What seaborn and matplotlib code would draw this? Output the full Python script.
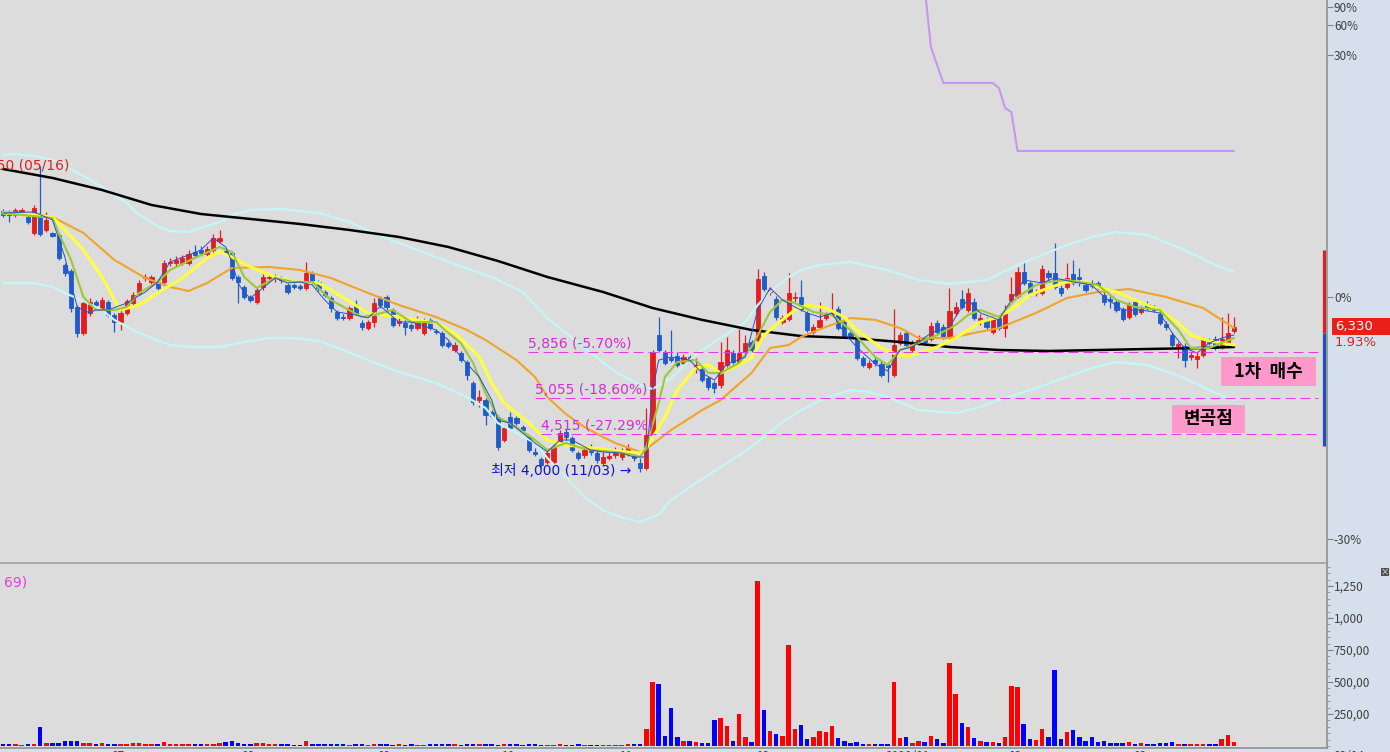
import numpy as np
import pandas as pd
import matplotlib
matplotlib.use('Agg')
import matplotlib.pyplot as plt
import seaborn as sns
from matplotlib.patches import Rectangle
from matplotlib.ticker import FixedLocator, NullLocator

# ----- # 일봉 데이터 (시가, 고가, 저가, 종가, 거래량) # ----- #
opens = [9160, 9130, 9040, 9100, 8985, 8540, 9040, 8620, 8540, 8486,
         7716, 7571, 6754, 6220, 6627, 6862, 6733, 6862, 6585, 6440,
         6627, 6840, 7061, 7405, 7311, 7311, 7311, 7765, 7765, 7765,
         7765, 8041, 8092, 7990, 8092, 8326, 8066, 8015, 7428, 7196,
         6972, 6862, 7196, 7405, 7405, 7405, 7242, 7242, 7219, 7173,
         7523, 7311, 7083, 6950, 6648, 6543, 6523, 6797, 6420, 6319,
         6440, 6950, 6972, 6690, 6420, 6420, 6379, 6319, 6220, 6484,
         6260, 6220, 6025, 5893, 5837, 5673, 5308, 5029, 5029, 4841,
         4765, 4430, 4765, 4750, 4616, 4472, 4265, 4171, 4132, 4132,
         4402, 4544, 4458, 4251, 4225, 4333, 4251, 4119, 4185, 4225,
         4198, 4251, 4225, 4119, 4054, 4501, 6180, 5856, 5745, 5782,
         5655, 5764, 5584, 5549, 5392, 5308, 5275, 5620, 5837, 5673,
         5856, 6045, 6084, 7452, 7083, 6928, 6440, 6502, 6950, 6972,
         6627, 6239, 6339, 6523, 6606, 6711, 6440, 6220, 6103, 5745,
         5584, 5708, 5638, 5620, 5444, 6025, 6220, 5893, 6045, 6103,
         6103, 6420, 6339, 6122, 6627, 6928, 6690, 6862, 6484, 6502,
         6239, 6523, 6319, 6906, 6994, 7547, 7288, 7061, 7061, 7523,
         7523, 7173, 7196, 7499, 7428, 7242, 7288, 7288, 7016, 6928,
         6862, 6711, 6543, 6862, 6648, 6818, 6733, 6606, 6400, 6180,
         5968, 5968, 5764, 5727, 5800, 6064, 6103, 5950, 6025, 6260]
highs = [9220, 9190, 9250, 9250, 9040, 9333, 10550, 9128, 8567, 8540,
         7765, 7619, 6797, 6906, 6950, 6906, 6972, 6906, 6627, 6690,
         6928, 7083, 7358, 7499, 7475, 7381, 7840, 7889, 7940, 7965,
         8092, 8221, 8195, 8195, 8513, 8622, 8144, 8066, 7475, 7242,
         7016, 7196, 7499, 7475, 7499, 7452, 7288, 7288, 7265, 7790,
         7571, 7358, 7128, 6994, 6690, 6606, 6775, 6906, 6484, 6484,
         6950, 6994, 7016, 6733, 6523, 6484, 6420, 6564, 6523, 6523,
         6300, 6260, 6064, 6045, 5875, 5708, 5341, 5191, 5061, 4872,
         4796, 4646, 4841, 4781, 4646, 4501, 4319, 4198, 4292, 4375,
         4573, 4587, 4487, 4278, 4333, 4375, 4292, 4265, 4292, 4333,
         4319, 4375, 4265, 4185, 4903, 5893, 6543, 5893, 6280, 5856,
         5819, 5800, 5745, 5584, 5427, 5341, 6045, 6141, 5893, 6300,
         6180, 6084, 7619, 7547, 7196, 6994, 6585, 7523, 7083, 7358,
         6669, 6400, 6862, 6648, 7061, 6775, 6484, 6260, 6141, 5782,
         5708, 5764, 5690, 5655, 6711, 6239, 6280, 6084, 6180, 6160,
         6440, 6484, 6400, 7173, 6862, 7128, 7173, 6950, 6606, 6543,
         6564, 6585, 6797, 7428, 7667, 7815, 7335, 7150, 7716, 7595,
         8273, 7242, 7765, 7840, 7643, 7311, 7358, 7335, 7083, 6994,
         6928, 6754, 6862, 6906, 6775, 6884, 6797, 6669, 6461, 6239,
         6045, 6025, 5856, 5856, 6141, 6122, 6160, 6543, 6627, 6543]
lows = [8980, 8840, 8980, 9040, 8790, 8486, 8459, 8567, 8430, 7840,
        7452, 6648, 6141, 6180, 6564, 6733, 6690, 6543, 6239, 6280,
        6585, 6797, 7016, 7335, 7265, 7128, 7242, 7692, 7692, 7716,
        7716, 7889, 7965, 7940, 8041, 8273, 7965, 7358, 6840, 6928,
        6862, 6818, 7128, 7335, 7311, 7288, 7039, 7150, 7128, 7128,
        7265, 7106, 6972, 6648, 6484, 6484, 6484, 6585, 6280, 6280,
        6339, 6733, 6690, 6339, 6359, 6180, 6260, 6280, 6180, 6280,
        6200, 5950, 5931, 5856, 5673, 5358, 4950, 4919, 4646, 4750,
        4292, 4402, 4573, 4646, 4544, 4265, 4211, 4067, 4106, 4092,
        4360, 4430, 4265, 4158, 4185, 4225, 4119, 4092, 4158, 4185,
        4158, 4211, 4145, 4000, 4028, 4472, 5856, 5620, 5673, 5584,
        5620, 5690, 5479, 5325, 5191, 5142, 5224, 5584, 5638, 5638,
        5819, 5856, 6045, 7106, 7016, 6484, 6400, 6461, 6862, 6669,
        6239, 6200, 6300, 6484, 6564, 6280, 6122, 6103, 5708, 5584,
        5549, 5601, 5410, 5325, 5410, 5987, 5950, 5856, 5987, 5987,
        6064, 6200, 6103, 6084, 6564, 6711, 6648, 6484, 6379, 6300,
        6200, 6280, 6141, 6862, 6950, 7242, 6994, 6994, 7016, 7358,
        7150, 6994, 7150, 7242, 7219, 7083, 7173, 7150, 6797, 6733,
        6648, 6461, 6502, 6564, 6606, 6690, 6648, 6379, 6280, 5950,
        5745, 5584, 5708, 5566, 5764, 5987, 5893, 5912, 5987, 6220]
closes = [9040, 9040, 9190, 9190, 8843, 9245, 8513, 8900, 8459, 7889,
          7523, 6733, 6220, 6840, 6862, 6797, 6906, 6585, 6440, 6627,
          6884, 7016, 7288, 7428, 7428, 7173, 7765, 7790, 7840, 7889,
          7990, 7965, 8015, 8118, 8406, 8406, 8015, 7405, 7311, 6972,
          6906, 7128, 7428, 7428, 7428, 7358, 7083, 7196, 7173, 7523,
          7311, 7173, 7016, 6733, 6523, 6523, 6733, 6627, 6339, 6440,
          6840, 6797, 6754, 6379, 6461, 6339, 6319, 6502, 6440, 6319,
          6239, 5987, 5968, 5987, 5708, 5444, 4997, 5077, 4796, 4781,
          4333, 4602, 4602, 4675, 4573, 4292, 4238, 4092, 4251, 4333,
          4530, 4472, 4292, 4185, 4292, 4265, 4158, 4198, 4211, 4265,
          4251, 4319, 4185, 4054, 4501, 5850, 5893, 5655, 5708, 5620,
          5764, 5727, 5620, 5358, 5241, 5224, 5673, 5893, 5673, 5837,
          6025, 5893, 7381, 7150, 7128, 6543, 6523, 7061, 6972, 6711,
          6280, 6339, 6484, 6585, 6627, 6319, 6160, 6141, 5745, 5620,
          5655, 5655, 5444, 5584, 5987, 6180, 5987, 6025, 6084, 6045,
          6359, 6239, 6141, 6669, 6754, 6754, 7061, 6523, 6523, 6339,
          6502, 6319, 6606, 7039, 7547, 7288, 7039, 7083, 7619, 7428,
          7196, 7061, 7405, 7288, 7381, 7128, 7219, 7219, 6862, 6884,
          6690, 6502, 6797, 6606, 6711, 6733, 6690, 6420, 6339, 5987,
          6006, 5708, 5800, 5782, 6084, 6025, 5931, 6103, 6210, 6330]
volumes = [16, 16, 16, 5, 16, 16, 149, 24, 21, 21,
           37, 37, 37, 24, 24, 16, 24, 16, 16, 16,
           16, 24, 24, 16, 16, 16, 31, 16, 16, 16,
           16, 16, 16, 16, 16, 24, 31, 37, 21, 16,
           16, 24, 24, 16, 16, 16, 16, 5, 5, 37,
           16, 16, 16, 16, 16, 16, 8, 16, 16, 8,
           16, 16, 16, 8, 16, 8, 16, 8, 8, 16,
           16, 16, 16, 16, 8, 16, 16, 16, 16, 16,
           8, 16, 16, 16, 8, 16, 16, 8, 8, 8,
           16, 8, 8, 16, 8, 8, 8, 8, 8, 8,
           8, 16, 16, 16, 131, 503, 485, 76, 296, 68,
           37, 37, 29, 21, 21, 202, 217, 155, 37, 249,
           68, 29, 1290, 280, 115, 92, 76, 791, 131, 162,
           52, 68, 115, 107, 155, 60, 37, 21, 29, 13,
           13, 13, 13, 13, 500, 60, 68, 21, 37, 29,
           76, 52, 21, 650, 406, 178, 147, 60, 37, 29,
           29, 21, 68, 469, 461, 170, 52, 45, 131, 68,
           595, 52, 107, 123, 68, 37, 68, 29, 37, 21,
           21, 21, 29, 13, 21, 13, 13, 21, 21, 29,
           13, 13, 13, 13, 13, 13, 13, 52, 84, 29]

# ----- # 이동평균선 / 밴드 # ----- #
ma_long_i = [0, 8, 16, 24, 32, 40, 48, 56, 64, 72, 80, 88, 97, 105, 113,
             121, 129, 137, 145, 153, 161, 169, 177, 185, 194, 199]
ma_long_v = [10460, 10167, 9788, 9333, 9070, 8928, 8787, 8622, 8433, 8169,
             7815, 7428, 7083, 6733, 6484, 6280, 6160, 6122, 6045, 5950,
             5893, 5875, 5893, 5912, 5931, 5950]

band_up_i = [0, 2, 5, 8, 10, 13, 16, 18, 20, 22, 25, 27, 30, 32, 35, 37, 40,
             45, 51, 56, 61, 67, 72, 79, 84, 88, 94, 99, 103, 105, 108, 111,
             113, 116, 120, 122, 124, 127, 129, 132, 137, 143, 148, 153, 159,
             164, 168, 172, 176, 180, 185, 191, 196, 199]
band_up_v = [10936, 10970, 10900, 10764, 10561, 10232, 9881, 9634, 9392, 9041,
             8732, 8594, 8567, 8677, 8843, 9041, 9186, 9215, 9099, 8843, 8459,
             8092, 7790, 7428, 7083, 6523, 5931, 5496, 5275, 5208, 5392, 5708,
             5893, 6122, 6440, 6797, 7083, 7428, 7595, 7716, 7790, 7595, 7358,
             7265, 7358, 7716, 7965, 8221, 8433, 8567, 8486, 8092, 7716, 7547]

band_dn_i = [0, 5, 8, 10, 13, 16, 18, 21, 24, 27, 30, 35, 39, 43, 47, 51, 55,
             59, 64, 70, 75, 78, 80, 83, 86, 88, 91, 94, 97, 100, 103, 106,
             108, 112, 116, 120, 123, 126, 129, 133, 137, 140, 143, 148, 154,
             158, 161, 167, 172, 176, 180, 185, 191, 196, 199]
band_dn_v = [7288, 7288, 7196, 7061, 6884, 6690, 6484, 6280, 6122, 5987, 5950,
             5950, 6045, 6122, 6122, 6064, 5893, 5708, 5496, 5308, 5077, 4903,
             4675, 4530, 4388, 4185, 3940, 3697, 3545, 3465, 3416, 3500, 3663,
             3866, 4067, 4278, 4472, 4690, 4870, 5061, 5191, 5158, 5077, 4870,
             4825, 4919, 5029, 5224, 5410, 5566, 5673, 5620, 5392, 5142, 5029]

ma_org_i = [0, 5, 8, 13, 18, 23, 27, 30, 33, 37, 43, 48, 53, 59, 64, 70, 75,
            78, 83, 86, 88, 91, 94, 97, 99, 103, 104, 108, 113, 116, 121, 124,
            127, 129, 133, 137, 141, 145, 148, 153, 161, 167, 172, 177, 182,
            188, 194, 199]
ma_org_v = [9128, 9070, 8985, 8540, 7840, 7405, 7196, 7106, 7288, 7643, 7667,
            7595, 7405, 7061, 6797, 6543, 6280, 6084, 5708, 5410, 5077, 4810,
            4616, 4472, 4388, 4265, 4306, 4573, 4870, 5029, 5479, 5931, 5987,
            6141, 6339, 6523, 6484, 6319, 6122, 6122, 6319, 6627, 6950, 7083,
            7150, 6972, 6733, 6319]

ma_yel_i = [0, 5, 8, 10, 13, 16, 18, 19, 22, 25, 29, 33, 35, 37, 40, 44, 47,
            51, 53, 59, 64, 70, 73, 77, 79, 81, 85, 88, 91, 94, 98, 101, 103,
            104, 107, 109, 112, 114, 116, 119, 121, 123, 126, 128, 130, 133,
            136, 138, 142, 145, 147, 151, 154, 156, 158, 161, 164, 166, 169,
            172, 175, 177, 180, 183, 187, 190, 192, 195, 199]
ma_yel_v = [9099, 9041, 8985, 8622, 8092, 7428, 6906, 6690, 6797, 7061, 7405,
            7889, 8041, 7914, 7667, 7428, 7311, 7288, 7128, 6627, 6543, 6420,
            6220, 5764, 5308, 4982, 4675, 4430, 4360, 4333, 4292, 4265, 4251,
            4319, 4765, 5191, 5566, 5620, 5479, 5620, 5745, 6180, 6484, 6690,
            6797, 6733, 6543, 6280, 5931, 5782, 5800, 5950, 6122, 6280, 6440,
            6543, 6797, 7016, 7173, 7311, 7311, 7196, 7083, 6906, 6690, 6420,
            6180, 6064, 5987]

ma_grn_i = [0, 8, 9, 11, 13, 15, 18, 20, 22, 25, 27, 31, 35, 37, 39, 41, 44,
            47, 50, 53, 58, 60, 63, 66, 70, 72, 74, 76, 78, 80, 83, 86, 88,
            91, 93, 95, 99, 102, 103, 104, 106, 107, 109, 112, 114, 116, 119,
            121, 124, 126, 128, 131, 134, 137, 141, 143, 145, 148, 151, 154,
            156, 158, 161, 164, 167, 169, 172, 175, 177, 180, 183, 187, 190,
            192, 195, 199]
ma_grn_v = [9099, 8956, 8540, 7840, 6972, 6690, 6690, 6754, 7061, 7311, 7595,
            7889, 8169, 8041, 7428, 7173, 7405, 7311, 7311, 6906, 6543, 6585,
            6690, 6440, 6440, 6220, 6025, 5655, 5142, 4765, 4616, 4430, 4292,
            4388, 4333, 4292, 4265, 4225, 4198, 4333, 4982, 5410, 5673, 5708,
            5479, 5479, 5655, 5950, 6648, 6906, 6840, 6648, 6585, 6280, 5764,
            5620, 5893, 6025, 6180, 6379, 6585, 6690, 6543, 6972, 7242, 7311,
            7358, 7288, 7242, 6906, 6754, 6690, 6280, 5931, 5931, 6122]

# 가는 파란 단기선
ma_blu_i = [0, 5, 8, 10, 11, 12, 14, 15, 17, 20, 23, 25, 27, 30, 32, 34, 36,
            37, 38, 39, 40, 42, 44, 46, 48, 50, 52, 54, 57, 59, 61, 64, 66,
            70, 72, 74, 77, 79, 80, 82, 86, 88, 90, 92, 95, 97, 100, 102, 104,
            105, 106, 108, 111, 113, 115, 117, 120, 122, 124, 126, 128, 130,
            132, 134, 136, 138, 141, 143, 145, 147, 150, 153, 155, 156, 158,
            161, 164, 165, 168, 170, 173, 176, 178, 181, 184, 187, 189, 191,
            193, 195, 197, 199]
ma_blu_v = [9099, 9130, 8899, 7914, 7288, 6754, 6627, 6690, 6690, 6840, 7083,
            7311, 7790, 7965, 8092, 8406, 8169, 7790, 7288, 7061, 6950, 7173,
            7405, 7288, 7311, 7242, 6906, 6648, 6585, 6523, 6775, 6440, 6440,
            6280, 6084, 5764, 5410, 5029, 4717, 4675, 4388, 4265, 4430, 4430,
            4292, 4265, 4251, 4198, 4198, 5191, 5708, 5764, 5708, 5479, 5358,
            5637, 5764, 6693, 7173, 6906, 6754, 6627, 6543, 6627, 6220, 5950,
            5637, 5514, 5893, 5950, 6220, 6339, 6754, 6906, 6627, 6484, 7128,
            7358, 7288, 7405, 7311, 7242, 6972, 6690, 6690, 6627, 6220, 5931,
            5837, 6025, 6122, 6180]

# 보라색 선 (우상단)
purple_i = [149, 150, 152, 160, 161, 162, 163, 164, 199]
purple_v = [18570, 15400, 13740, 13740, 13520, 12690, 12530, 11075, 11075]

# 지지선 (가격) 과 우측 범위 막대
levels = [5856, 5055, 4515]
level_start = [84.9, 86.0, 87.0]
range_bar = [8090, 6220, 4350]

# 축 라벨
pct_labels = ['90%', '60%', '30%', '0%', '-30%']
pct_pos = [17480, 16510, 15010, 6972, 3237]
vol_ticks = [250, 500, 750, 1000, 1250]
vol_labels = ['250,00', '500,00', '750,00', '1,000', '1,250']
month_pos = [17.5, 38.6, 60.6, 80.7, 99.8, 121.9, 142.7, 162.5, 182.7]
month_lbl = ['07', '08', '09', '10', '11', '12', '2020/01', '02', '03']
high_date = '05/16'
low_date = '11/03'
last_date = '03/04'

# ----- # 색상 / 글꼴 # ----- #
RED = '#E41E1E'
BLUE = '#1F5CC8'
VRED = '#FF0000'
VBLUE = '#0000FF'
MAG = '#E040E0'
BG = '#DCDCDC'
PANEL = '#D6E0EC'
NUMF = ['DejaVu Sans', 'Noto Sans CJK KR']

sns.set_style('white')
plt.rcParams['font.family'] = ['Noto Sans CJK KR', 'DejaVu Sans']

W, H = 1390, 752
fig = plt.figure(figsize=(13.9, 7.52), dpi=100, facecolor=PANEL)
ax = fig.add_axes([0, 1 - 563 / H, 1327 / W, 563 / H])
axv = fig.add_axes([0, 4 / H, 1327 / W, 184 / H], sharex=ax)

df = pd.DataFrame({'o': opens, 'h': highs, 'l': lows, 'c': closes,
                   'v': volumes})
df['i'] = np.arange(len(df))
up = df['c'] >= df['o']
ccol = np.where(up, RED, BLUE)
vcol = np.where(up, VRED, VBLUE)

# 캔들
ax.vlines(df['i'], df['l'], df['h'], colors=ccol, lw=0.9, zorder=2)
ax.bar(df['i'], (df['c'] - df['o']).abs(), bottom=df[['o', 'c']].min(axis=1),
       width=0.68, color=ccol, edgecolor=ccol, lw=0.6, zorder=2)


def linha(xs, ys, color, lw, z=3):
    sns.lineplot(x=xs, y=ys, ax=ax, color=color, lw=lw, sort=False,
                 estimator=None, zorder=z)


linha(band_up_i, band_up_v, '#C4F6F6', 1.6)
linha(band_dn_i, band_dn_v, '#C4F6F6', 1.6)
linha(ma_long_i, ma_long_v, '#000000', 1.8)
linha(ma_org_i, ma_org_v, '#F0A428', 1.5)
linha(ma_yel_i, ma_yel_v, '#FFFF3C', 2.2)
linha(ma_grn_i, ma_grn_v, '#9CC832', 1.5)
linha(ma_blu_i, ma_blu_v, '#2A50D0', 0.7, z=3.5)
linha(purple_i, purple_v, '#C896F0', 1.5)

# 지지선
prev_close = closes[-2]
last_close = closes[-1]
for lv, x0 in zip(levels, level_start):
    ax.hlines(lv, x0, 212.6, colors=MAG, lw=0.75,
              linestyles=(0, (9.6, 4.8)), zorder=4)
    ax.text(x0, lv * 1.004, f'{lv:,} ({(lv / prev_close - 1) * 100:.2f}%)',
            color='#D030D0', fontsize=10, family=NUMF, ha='left',
            va='bottom', zorder=5)

# 최고 / 최저 표시
hi_i = int(np.argmax(highs))
lo_i = int(np.argmin(lows))
ax.text(hi_i + 4.8, highs[hi_i], f'{highs[hi_i]:,} ({high_date})',
        color='#E02020', fontsize=10, family=NUMF, ha='right', va='center')
ax.text(lo_i - 1.4, lows[lo_i] * 1.005,
        f'최저 {lows[lo_i]:,} ({low_date}) →', color='#1414C8',
        fontsize=10, family=NUMF, ha='right', va='center')

# 우측 범위 막대
ax.vlines(213.55, range_bar[1], range_bar[0], colors='#E02020', lw=2.3)
ax.vlines(213.55, range_bar[2], range_bar[1], colors='#2050C0', lw=2.3)

# 가격축 설정
ax.set_yscale('log')
ax.set_ylim(3000, 17873)
ax.set_xlim(-0.485, 214.03)
ax.set_facecolor(BG)
ax.yaxis.tick_right()
ax.yaxis.set_major_locator(FixedLocator(pct_pos))
ax.yaxis.set_minor_locator(NullLocator())
ax.set_yticklabels(pct_labels)
ax.tick_params(axis='y', direction='out', length=4, width=0.8,
               color='#808080', labelsize=8.5, labelcolor='#404040', pad=1)
ax.tick_params(axis='x', bottom=False, labelbottom=False)
for s in ['left', 'top']:
    ax.spines[s].set_visible(False)
ax.spines['right'].set_color('#909090')
ax.spines['right'].set_linewidth(1.2)
ax.spines['bottom'].set_color('#A0A0A0')
ax.spines['bottom'].set_linewidth(1.2)
ax.set_xlabel('')
ax.set_ylabel('')

# 거래량
axv.bar(df['i'], df['v'], width=0.72, color=vcol, lw=0)
axv.set_facecolor(BG)
axv.set_ylim(-16, 1422)
axv.yaxis.tick_right()
axv.set_yticks(vol_ticks)
axv.set_yticklabels(vol_labels)
axv.yaxis.set_minor_locator(FixedLocator(np.arange(0, 1401, 50)))
axv.tick_params(axis='y', which='major', direction='out', length=4,
                width=0.8, color='#808080', labelsize=8.5,
                labelcolor='#404040', pad=1)
axv.tick_params(axis='y', which='minor', direction='out', length=2,
                width=0.6, color='#909090')
axv.set_xticks(month_pos)
axv.set_xticklabels(month_lbl)
axv.tick_params(axis='x', direction='out', length=6, width=0.8,
                color='#808080', labelsize=8.5, labelcolor='#404040',
                pad=-4.6)
for lb in axv.get_xticklabels():
    lb.set_ha('left')
axv.spines['left'].set_visible(False)
axv.spines['top'].set_visible(False)
for s in ['right', 'bottom']:
    axv.spines[s].set_color('#909090')
    axv.spines[s].set_linewidth(1.2)
axv.set_xlabel('')
axv.set_ylabel('')

# 현재가 박스
fig.add_artist(Rectangle((1332 / W, 1 - 335 / H), 58 / W, 17 / H,
                         transform=fig.transFigure, color='#E8201A', lw=0))
fig.text(1335 / W, 1 - 326.5 / H, f'{last_close:,}', color='white',
         fontsize=9.5, family=NUMF, ha='left', va='center')
fig.text(1335 / W, 1 - 343 / H,
         f'{(last_close / prev_close - 1) * 100:.2f}%', color='#E02020',
         fontsize=9.5, family=NUMF, ha='left', va='center')

# 분홍 메모 상자
for (x0, y0, w, h), txt in [((1221, 357, 95, 29), '1차  매수'),
                            ((1172, 405, 73, 28), '변곡점')]:
    fig.add_artist(Rectangle((x0 / W, 1 - (y0 + h) / H), w / W, h / H,
                             transform=fig.transFigure, color='#FF99CC',
                             lw=0))
    fig.text((x0 + w / 2) / W, 1 - (y0 + h / 2) / H, txt, color='black',
             fontsize=13, fontweight='bold', ha='center', va='center')

# 거래량 라벨 / 기타
fig.text(27 / W, 1 - 583 / H, '69)', color='#E040E0', fontsize=10,
         family=NUMF, ha='right', va='center')
fig.text(1333 / W, 1 - 749.5 / H, last_date, color='#404040', fontsize=8.5,
         ha='left', va='top')
fig.add_artist(Rectangle((1381 / W, 1 - 576 / H), 8 / W, 8 / H,
                         transform=fig.transFigure, color='#505050', lw=0))
fig.text(1385 / W, 1 - 572 / H, '×', color='white', fontsize=6,
         ha='center', va='center')

fig.savefig('out.png', dpi=100, facecolor=PANEL)
